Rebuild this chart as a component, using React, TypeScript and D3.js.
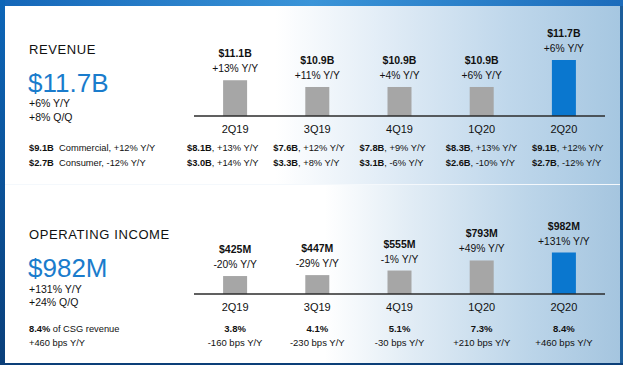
import * as d3 from 'd3'
import { useEffect, useRef } from 'react'

const WIDTH = 623
const HEIGHT = 365
const FONT = '"Liberation Sans", Arial, sans-serif'
const DARK = '#111111'
const BLUE_TEXT = '#1a7ccc'
const GRAY_BAR = '#a6a6a6'
const BLUE_BAR = '#0a77cf'

const QUARTERS = ['2Q19', '3Q19', '4Q19', '1Q20', '2Q20']

// revenue ($B)
const REVENUE = [11.1, 10.9, 10.9, 10.9, 11.7]
const REVENUE_YOY = ['+13% Y/Y', '+11% Y/Y', '+4% Y/Y', '+6% Y/Y', '+6% Y/Y']
const COMMERCIAL = ['$8.1B', '$7.6B', '$7.8B', '$8.3B', '$9.1B']
const COMMERCIAL_YOY = ['+13% Y/Y', '+12% Y/Y', '+9% Y/Y', '+13% Y/Y', '+12% Y/Y']
const CONSUMER = ['$3.0B', '$3.3B', '$3.1B', '$2.6B', '$2.7B']
const CONSUMER_YOY = ['+14% Y/Y', '+8% Y/Y', '-6% Y/Y', '-10% Y/Y', '-12% Y/Y']

// operating income ($M)
const OP_INCOME = [425, 447, 555, 793, 982]
const OP_YOY = ['-20% Y/Y', '-29% Y/Y', '-1% Y/Y', '+49% Y/Y', '+131% Y/Y']
const OP_MARGIN = ['3.8%', '4.1%', '5.1%', '7.3%', '8.4%']
const OP_MARGIN_BPS = ['-160 bps Y/Y', '-230 bps Y/Y', '-30 bps Y/Y', '+210 bps Y/Y', '+460 bps Y/Y']

type G = d3.Selection<SVGGElement, undefined, null, undefined>

const addText = (
  g: G,
  x: number,
  y: number,
  text: string,
  size: number,
  opts: { weight?: string; anchor?: string; fill?: string; spacing?: number } = {},
) =>
  g
    .append('text')
    .attr('x', x)
    .attr('y', y)
    .attr('font-family', FONT)
    .attr('font-size', size)
    .attr('font-weight', opts.weight ?? 'normal')
    .attr('text-anchor', opts.anchor ?? 'start')
    .attr('letter-spacing', opts.spacing ?? 0)
    .attr('fill', opts.fill ?? DARK)
    .text(text)

function drawBackground(svg: d3.Selection<SVGSVGElement, undefined, null, undefined>) {
  const defs = svg.append('defs')
  const grad = (id: string, stops: [number, string][], vertical = false) => {
    const lg = defs
      .append('linearGradient')
      .attr('id', id)
      .attr('x1', 0)
      .attr('y1', 0)
      .attr('x2', vertical ? 0 : 1)
      .attr('y2', vertical ? 1 : 0)
    stops.forEach(([o, c]) => lg.append('stop').attr('offset', o).attr('stop-color', c))
  }
  grad('topBand', [
    [0, '#1466b8'],
    [0.5, '#3a94d8'],
    [1, '#1c6cbb'],
  ])
  grad(
    'leftBand',
    [
      [0, '#0d66b8'],
      [1, '#0a3f7a'],
    ],
    true,
  )
  grad('panelTop', [
    [0, '#ffffff'],
    [0.44, '#ffffff'],
    [0.6, '#e4eef7'],
    [0.82, '#bfd7eb'],
    [1, '#a6c7e1'],
  ])
  grad('panelBottom', [
    [0, '#ffffff'],
    [0.52, '#ffffff'],
    [0.66, '#e1ecf5'],
    [0.85, '#bcd5e9'],
    [1, '#a5c5df'],
  ])

  svg.append('rect').attr('width', WIDTH).attr('height', HEIGHT).attr('fill', '#0c4f93')
  svg.append('rect').attr('x', 5).attr('y', 6).attr('width', 615).attr('height', 178).attr('fill', 'url(#panelTop)')
  svg.append('rect').attr('x', 5).attr('y', 185).attr('width', 615).attr('height', 178).attr('fill', 'url(#panelBottom)')
  svg.append('rect').attr('x', 5).attr('y', 184).attr('width', 615).attr('height', 1).attr('fill', '#f4f8fc')
  svg.append('rect').attr('width', WIDTH).attr('height', 6).attr('fill', 'url(#topBand)')
  svg.append('rect').attr('y', 0).attr('width', 5).attr('height', HEIGHT).attr('fill', 'url(#leftBand)')
  svg.append('rect').attr('x', 620).attr('y', 6).attr('width', 3).attr('height', HEIGHT).attr('fill', '#1d5e9b')
  svg.append('rect').attr('y', 363).attr('width', WIDTH).attr('height', 2).attr('fill', '#0c3f78')
}

function drawBars(
  g: G,
  values: number[],
  y: d3.ScaleLinear<number, number>,
  x: d3.ScalePoint<string>,
  base: number,
  labels: string[],
  yoy: string[],
) {
  g.selectAll('rect.bar')
    .data(values)
    .join('rect')
    .attr('class', 'bar')
    .attr('x', (_, i) => x(QUARTERS[i])! - 12)
    .attr('y', (d) => y(d))
    .attr('width', 24)
    .attr('height', (d) => base - y(d))
    .attr('fill', (_, i) => (i === values.length - 1 ? BLUE_BAR : GRAY_BAR))

  const line = d3.line()
  g.append('path')
    .attr('d', line([[x.range()[0], base], [x.range()[1], base]]))
    .attr('stroke', '#2b2b2b')
    .attr('stroke-width', 1.3)

  values.forEach((v, i) => {
    const cx = x(QUARTERS[i])!
    addText(g, cx, y(v) - 23, labels[i], 10.5, { weight: 'bold', anchor: 'middle' })
    addText(g, cx, y(v) - 8, yoy[i], 10.3, { anchor: 'middle' })
    addText(g, cx, base + 17, QUARTERS[i], 11, { anchor: 'middle' })
  })
}

function buildChart(): SVGSVGElement {
  const svg = d3
    .create('svg')
    .attr('width', WIDTH)
    .attr('height', HEIGHT)
    .attr('viewBox', [0, 0, WIDTH, HEIGHT])
    .attr('style', 'position:absolute;left:0;top:0;display:block')
  drawBackground(svg)

  const x = d3.scalePoint(QUARTERS, [194, 605]).padding(0.5)

  // ---- revenue
  const top = svg.append('g') as unknown as G
  addText(top, 29, 54, 'REVENUE', 13, { spacing: 0.6 })
  addText(top, 28, 92, `$${REVENUE[4]}B`, 26, { fill: BLUE_TEXT })
  addText(top, 29, 106.5, '+6% Y/Y', 10.5)
  addText(top, 29, 120.5, '+8% Q/Q', 10.5)
  addText(top, 29, 150.5, COMMERCIAL[4], 9.3, { weight: 'bold' })
  addText(top, 59, 150.5, `Commercial, ${COMMERCIAL_YOY[4]}`, 9.3)
  addText(top, 29, 165.5, CONSUMER[4], 9.3, { weight: 'bold' })
  addText(top, 59, 165.5, `Consumer, ${CONSUMER_YOY[4]}`, 9.3)

  const revBase = 116
  const yRev = d3.scaleLinear([10.04, 11.7], [revBase, 60])
  drawBars(
    top,
    REVENUE,
    yRev,
    x,
    revBase,
    REVENUE.map((v) => `$${v.toFixed(1)}B`),
    REVENUE_YOY,
  )

  const cols = d3.scalePoint(QUARTERS, [187, 532])
  const detailRow = (vals: string[], yoy: string[], yPos: number) =>
    vals.forEach((v, i) => {
      const t = top
        .append('text')
        .attr('x', cols(QUARTERS[i])!)
        .attr('y', yPos)
        .attr('font-family', FONT)
        .attr('font-size', 9.3)
        .attr('fill', DARK)
      t.append('tspan').attr('font-weight', 'bold').text(v)
      t.append('tspan').text(`, ${yoy[i]}`)
    })
  detailRow(COMMERCIAL, COMMERCIAL_YOY, 150.5)
  detailRow(CONSUMER, CONSUMER_YOY, 165.5)

  // ---- operating income
  const bot = svg.append('g') as unknown as G
  addText(bot, 29, 239, 'OPERATING INCOME', 13, { spacing: 0.6 })
  addText(bot, 28, 277, `$${OP_INCOME[4]}M`, 26, { fill: BLUE_TEXT })
  addText(bot, 29, 293, '+131% Y/Y', 10.5)
  addText(bot, 29, 306, '+24% Q/Q', 10.5)
  const share = bot
    .append('text')
    .attr('x', 29)
    .attr('y', 331.5)
    .attr('font-family', FONT)
    .attr('font-size', 9.3)
    .attr('fill', DARK)
  share.append('tspan').attr('font-weight', 'bold').text(OP_MARGIN[4])
  share.append('tspan').text(' of CSG revenue')
  addText(bot, 29, 346, OP_MARGIN_BPS[4], 9.3)

  const opBase = 294
  const yOp = d3.scaleLinear([0, 982], [opBase, 252.5])
  drawBars(
    bot,
    OP_INCOME,
    yOp,
    x,
    opBase,
    OP_INCOME.map((v) => `$${v}M`),
    OP_YOY,
  )
  OP_MARGIN.forEach((m, i) => {
    const cx = x(QUARTERS[i])!
    addText(bot, cx, 332, m, 9.5, { weight: 'bold', anchor: 'middle' })
    addText(bot, cx, 346, OP_MARGIN_BPS[i], 9.5, { anchor: 'middle' })
  })

  return svg.node()!
}

export default function App() {
  const ref = useRef<HTMLDivElement>(null)
  useEffect(() => {
    if (!ref.current) return
    const node = buildChart()
    ref.current.appendChild(node)
    return () => {
      ref.current?.removeChild(node)
    }
  }, [])
  return <div ref={ref} />
}
